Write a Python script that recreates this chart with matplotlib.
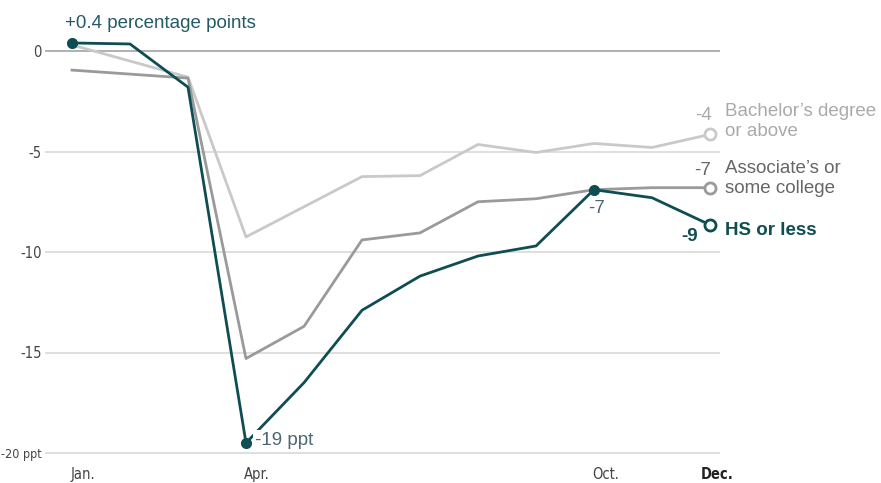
import os
import matplotlib
matplotlib.use('Agg')
from matplotlib import pyplot as plt
from matplotlib import font_manager
from matplotlib.font_manager import FontProperties
import matplotlib.transforms as mtransforms

# data: change vs. previous year, percentage points
months = ['Jan', 'Feb', 'Mar', 'Apr', 'May', 'Jun', 'Jul', 'Aug', 'Sep', 'Oct', 'Nov', 'Dec']
hs_or_less = [0.4, 0.35, -1.8, -19.5, -16.5, -12.9, -11.2, -10.2, -9.7, -6.9, -7.3, -8.65]
associates = [-0.95, -1.15, -1.35, -15.3, -13.7, -9.4, -9.05, -7.5, -7.35, -6.9, -6.8, -6.8]
bachelors = [0.3, -0.5, -1.3, -9.25, -7.75, -6.25, -6.2, -4.65, -5.05, -4.6, -4.8, -4.15]

ytick_vals = [0, -5, -10, -15, -20]
ytick_labels = ['0', '-5', '-10', '-15', '-20 ppt']
xtick_pos = [0, 3, 9, 11]
xtick_labels = ['Jan.', 'Apr.', 'Oct.', 'Dec.']

# look for a condensed face for the tick labels
cond_file = None
cond_bold = None
for f in font_manager.fontManager.ttflist:
    base = os.path.basename(f.fname)
    if base == 'LiberationSansNarrow-Regular.ttf':
        cond_file = f.fname
    if base == 'LiberationSansNarrow-Bold.ttf':
        cond_bold = f.fname
for f in font_manager.fontManager.ttflist:
    base = os.path.basename(f.fname)
    if cond_file is None and base == 'DejaVuSansCondensed.ttf':
        cond_file = f.fname
    if cond_bold is None and base == 'DejaVuSansCondensed-Bold.ttf':
        cond_bold = f.fname
tick_fp = FontProperties(fname=cond_file) if cond_file else FontProperties(family='DejaVu Sans')
tick_fp_bold = FontProperties(fname=cond_bold) if cond_bold else FontProperties(family='DejaVu Sans', weight='bold')
tick_fp.set_size(10.5)
tick_fp_bold.set_size(10.5)
ytick_fp = tick_fp.copy()
ytick_fp.set_size(10.5)

plt.rcParams['font.family'] = ['Liberation Sans', 'DejaVu Sans']

TEAL = '#0e4e53'
MID = '#9a9a9a'
LIGHT = '#c9c9c9'
FS = 13.5

W, H = 881, 483
fig = plt.figure(figsize=(W / 100, H / 100), dpi=100)
# axes spans pixel 45..720 horizontally, 10..465 vertically
ax = fig.add_axes([45 / W, 1 - 465 / H, 675 / W, 455 / H])
x = list(range(len(months)))
ax.set_xlim((45 - 72) / 58, (720 - 72) / 58)
ax.set_ylim((51 - 465) / 20.1, (51 - 10) / 20.1)

for v in ytick_vals:
    ax.axhline(v, color='#aaaaaa' if v == 0 else '#dcdcdc', lw=1.3, zorder=1)

ax.plot(x, bachelors, color=LIGHT, lw=2, zorder=2)
ax.plot(x, associates, color=MID, lw=2, zorder=3)
ax.plot(x, hs_or_less, color=TEAL, lw=2, zorder=4)

# filled highlight dots
for i in [0, 3, 9]:
    ax.plot(x[i], hs_or_less[i], 'o', color=TEAL, ms=7, zorder=6)
# open end markers
ax.plot(x[-1], bachelors[-1], 'o', mfc='white', mec=LIGHT, mew=2, ms=8, zorder=6)
ax.plot(x[-1], associates[-1], 'o', mfc='white', mec=MID, mew=2, ms=8, zorder=6)
ax.plot(x[-1], hs_or_less[-1], 'o', mfc='white', mec=TEAL, mew=2, ms=8, zorder=6)

# annotations
ax.text(x[0] - 0.12, hs_or_less[0] + 0.55, '+0.4 percentage points', color='#245a68',
        fontsize=FS, ha='left', va='bottom')
ax.text(x[3] + 0.15, hs_or_less[3] + 0.1, '-19 ppt', color='#4d6670', fontsize=FS,
        ha='left', va='center', bbox=dict(fc='white', ec='none', pad=1.5), zorder=5)
ax.text(x[9] + 0.05, hs_or_less[9] - 0.5, '-7', color='#4d6670', fontsize=FS,
        ha='center', va='top')
ax.text(x[-1] - 0.35, hs_or_less[-1] - 0.15, '-9', color=TEAL, fontsize=FS,
        ha='center', va='top', fontweight='bold')
ax.text(x[-1] - 0.12, bachelors[-1] + 0.5, '-4', color='#aaaaaa', fontsize=FS,
        ha='center', va='bottom')
ax.text(x[-1] - 0.12, associates[-1] + 0.45, '-7', color='#666666', fontsize=FS,
        ha='center', va='bottom')

ax.text(x[-1] + 0.26, bachelors[-1] + 0.65, "Bachelor\u2019s degree\nor above", color='#aaaaaa',
        fontsize=FS, ha='left', va='center', linespacing=1.2)
ax.text(x[-1] + 0.26, associates[-1] + 0.45, "Associate\u2019s or\nsome college", color='#666666',
        fontsize=FS, ha='left', va='center', linespacing=1.2)
ax.text(x[-1] + 0.26, hs_or_less[-1] - 0.3, 'HS or less', color=TEAL,
        fontsize=FS, ha='left', va='center', fontweight='bold')

ax.set_yticks(ytick_vals)
ax.set_yticklabels(ytick_labels, color='#444444', fontproperties=ytick_fp)
ax.get_yticklabels()[-1].set_fontsize(9)
ax.set_xticks([x[i] for i in xtick_pos])
ax.set_xticklabels([])
ax.tick_params(axis='both', length=0)
ax.tick_params(axis='y', pad=2.5)

# month labels, left-aligned at their ticks; Dec. bold and centred slightly right
trans = mtransforms.blended_transform_factory(ax.transData, ax.transAxes)
base_y = (465 - 479) / 455
for pos, lab in zip(xtick_pos, xtick_labels):
    if lab == 'Dec.':
        ax.text(pos + 0.12, base_y, lab, transform=trans, ha='center', va='baseline',
                color='#222222', fontproperties=tick_fp_bold)
    else:
        ax.text(pos - 0.03, base_y, lab, transform=trans, ha='left', va='baseline',
                color='#444444', fontproperties=tick_fp)

for s in ax.spines.values():
    s.set_visible(False)

fig.savefig('out.png', dpi=100)
